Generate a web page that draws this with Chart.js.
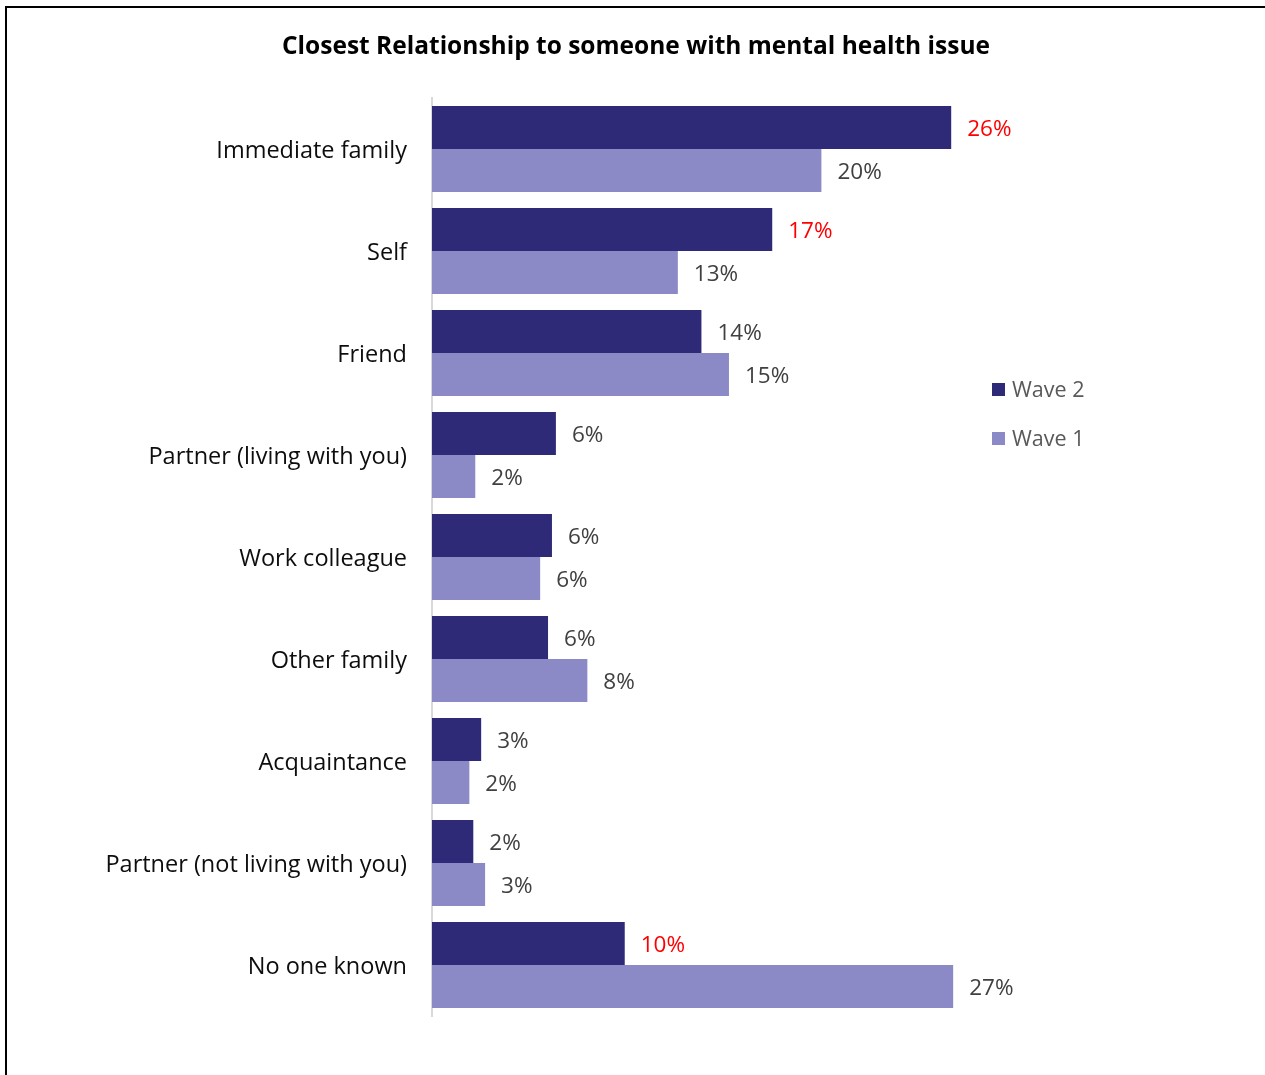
<!DOCTYPE html>
<html>
<head>
<meta charset="utf-8">
<script src="https://cdn.jsdelivr.net/npm/chart.js@4.4.1/dist/chart.umd.min.js"></script>
<style>
  html, body { margin: 0; padding: 0; background: #fff; }
  #wrap { position: relative; width: 1265px; height: 1075px; overflow: hidden; }
  #frame { position: absolute; left: 5px; top: 6px; width: 1300px; height: 1100px; border: 2px solid #000; box-sizing: border-box; }
  #chart { position: absolute; left: 0; top: 0; }
</style>
</head>
<body>
<div id="wrap">
  <div id="frame"></div>
  <canvas id="chart" width="1265" height="1075"></canvas>
</div>
<script>
// Closest relationship survey - two waves

const categories = ['Immediate family', 'Self', 'Friend', 'Partner (living with you)', 'Work colleague', 'Other family', 'Acquaintance', 'Partner (not living with you)', 'No one known'];
const wave2 = [26.4, 17.3, 13.7, 6.3, 6.1, 5.9, 2.5, 2.1, 9.8];
const wave1 = [19.8, 12.5, 15.1, 2.2, 5.5, 7.9, 1.9, 2.7, 26.5];
// wave 2 values flagged in red
const wave2Flagged = [true, true, false, false, false, false, false, false, true];

const chartTitle = 'Closest Relationship to someone with mental health issue';
const FONT = '"Open Sans", sans-serif';

// title centred across the whole canvas
const topTitle = {
  id: 'topTitle',
  afterDraw(chart) {
    const ctx = chart.ctx;
    ctx.save();
    ctx.font = 'bold 24.5px ' + FONT;
    ctx.fillStyle = '#000';
    ctx.textAlign = 'center';
    ctx.textBaseline = 'middle';
    ctx.fillText(chartTitle, 636, 47);
    ctx.restore();
  }
};

// labels at the end of each bar
const barLabels = {
  id: 'barLabels',
  afterDatasetsDraw(chart) {
    const ctx = chart.ctx;
    ctx.save();
    ctx.font = '22.5px ' + FONT;
    ctx.textBaseline = 'middle';
    ctx.textAlign = 'left';
    chart.data.datasets.forEach((ds, di) => {
      chart.getDatasetMeta(di).data.forEach((bar, i) => {
        const red = di === 0 && wave2Flagged[i];
        ctx.fillStyle = red ? '#FF0000' : '#404040';
        ctx.fillText(Math.round(ds.data[i]) + '%', bar.x + 16, bar.y + 2);
      });
    });
    ctx.restore();
  }
};

// legend on the right
const sideLegend = {
  id: 'sideLegend',
  afterDraw(chart) {
    const ctx = chart.ctx;
    ctx.save();
    ctx.font = '21.5px ' + FONT;
    ctx.textBaseline = 'middle';
    chart.data.datasets.forEach((ds, di) => {
      const y = 390 + di * 49;
      ctx.fillStyle = ds.backgroundColor;
      ctx.fillRect(992, y - 7, 13, 13);
      ctx.fillStyle = '#595959';
      ctx.fillText(ds.label, 1012, y + 1);
    });
    ctx.restore();
  }
};

new Chart(document.getElementById('chart'), {
  type: 'bar',
  data: {
    labels: categories,
    datasets: [
      { label: 'Wave 2', data: wave2, backgroundColor: '#2E2A78' },
      { label: 'Wave 1', data: wave1, backgroundColor: '#8B89C6' }
    ]
  },
  options: {
    indexAxis: 'y',
    responsive: false,
    animation: false,
    categoryPercentage: 0.843,
    barPercentage: 1.0,
    layout: { padding: { left: 0, right: 243, top: 98, bottom: 59 } },
    plugins: {
      legend: { display: false },
      tooltip: { enabled: false },
      title: { display: false }
    },
    scales: {
      x: {
        display: false,
        min: 0,
        max: 30
      },
      y: {
        grid: { display: false, drawTicks: false },
        border: { display: true, color: '#D9D9D9', width: 2 },
        ticks: { color: '#0D0D0D', padding: 25, labelOffset: 2, font: { family: FONT, size: 23.5 } },
        afterFit(scale) { scale.width = 432; }
      }
    }
  },
  plugins: [barLabels, sideLegend, topTitle]
});
</script>
</body>
</html>
